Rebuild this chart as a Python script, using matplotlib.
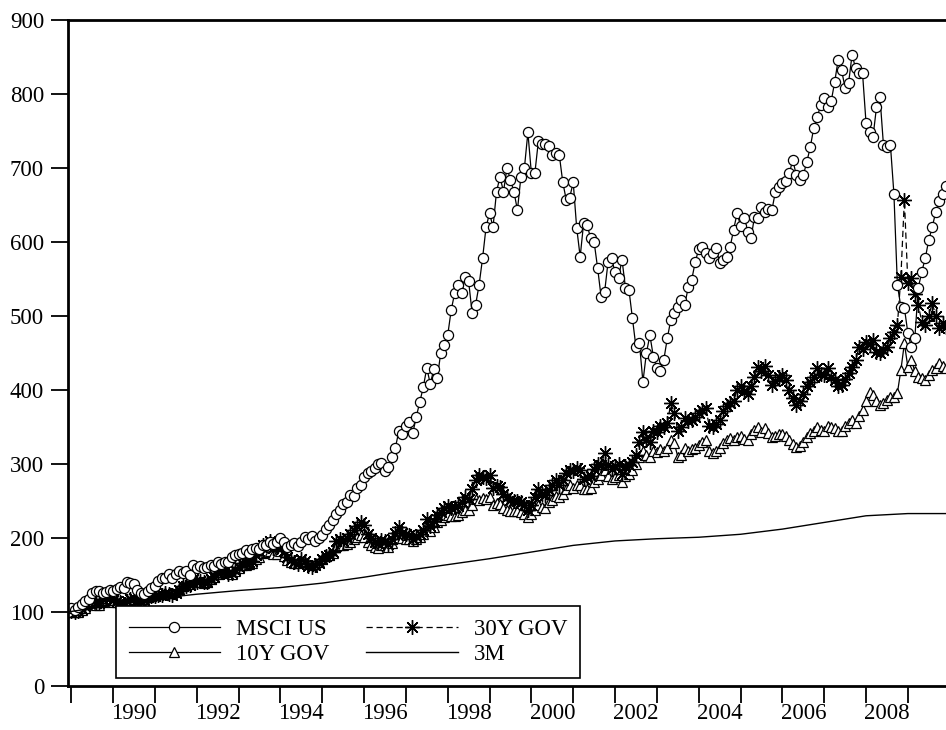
import numpy as np
import matplotlib
matplotlib.use("Agg")
import matplotlib.pyplot as plt

plt.rcParams["font.family"] = ["Liberation Serif", "DejaVu Serif"]

# monthly index levels, Dec 1988 = 100 (one row per year, Jan..Dec)
msci_us = [100,
    106, 103, 107, 111, 115, 118, 126, 128, 128, 125, 127, 130,   # 1989
    128, 131, 134, 133, 140, 139, 138, 130, 125, 124, 128, 132,   # 1990
    135, 142, 146, 146, 152, 146, 152, 156, 153, 156, 150, 163,   # 1991
    160, 162, 160, 161, 163, 162, 168, 165, 167, 168, 174, 177,   # 1992
    178, 180, 184, 180, 185, 186, 185, 191, 190, 194, 192, 195,   # 1993
    200, 195, 188, 190, 193, 189, 195, 202, 198, 203, 196, 200,   # 1994
    204, 212, 218, 224, 232, 238, 246, 248, 258, 257, 268, 272,   # 1995
    282, 288, 290, 294, 300, 302, 290, 296, 310, 322, 345, 340,   # 1996
    352, 357, 342, 364, 384, 404, 430, 408, 428, 416, 450, 461,   # 1997
    474, 508, 531, 542, 531, 553, 547, 504, 515, 542, 578, 620,   # 1998
    639, 620, 668, 688, 668, 700, 684, 668, 643, 688, 700, 748,   # 1999
    693, 693, 736, 733, 733, 730, 718, 720, 718, 681, 657, 660,   # 2000
    681, 619, 580, 626, 623, 605, 600, 565, 526, 532, 573, 578,   # 2001
    559, 552, 576, 538, 535, 497, 458, 463, 411, 450, 474, 445,   # 2002
    430, 425, 441, 470, 495, 504, 512, 522, 515, 539, 549, 573,   # 2003
    590, 593, 585, 578, 585, 592, 572, 575, 580, 593, 616, 639,   # 2004
    622, 632, 614, 605, 634, 632, 647, 640, 645, 643, 668, 674,   # 2005
    680, 682, 693, 711, 690, 684, 690, 708, 728, 754, 769, 785,   # 2006
    795, 782, 790, 816, 846, 832, 808, 815, 853, 835, 828, 828,   # 2007
    761, 749, 742, 782, 796, 731, 729, 731, 665, 542, 512, 511,   # 2008
    477, 458, 470, 538, 560, 578, 603, 620, 641, 655, 665, 675]   # 2009

gov_30y = [100,
    102, 100, 101, 104, 108, 113, 116, 112, 112, 117, 119, 120,
    116, 115, 114, 110, 115, 118, 119, 113, 113, 116, 120, 122,
    122, 123, 123, 125, 124, 123, 126, 130, 135, 135, 137, 145,
    141, 142, 140, 140, 144, 147, 153, 154, 155, 152, 153, 157,
    161, 166, 167, 167, 169, 177, 182, 190, 190, 196, 187, 188,
    192, 183, 174, 170, 168, 165, 171, 169, 162, 161, 163, 166,
    171, 176, 177, 181, 196, 199, 196, 200, 205, 211, 216, 221,
    217, 205, 200, 194, 193, 197, 196, 192, 198, 207, 215, 207,
    205, 204, 198, 203, 206, 211, 225, 216, 223, 231, 235, 240,
    243, 241, 242, 243, 249, 255, 253, 266, 278, 285, 282, 281,
    285, 268, 270, 269, 260, 255, 252, 250, 250, 248, 245, 238,
    245, 255, 266, 260, 258, 265, 272, 278, 272, 278, 288, 292,
    290, 295, 292, 280, 282, 284, 293, 300, 298, 315, 298, 293,
    297, 300, 287, 297, 298, 303, 312, 330, 343, 333, 330, 345,
    343, 352, 350, 355, 382, 369, 345, 350, 362, 358, 360, 364,
    369, 373, 376, 352, 350, 354, 360, 372, 378, 382, 385, 400,
    405, 398, 395, 405, 418, 431, 425, 432, 420, 407, 412, 418,
    420, 413, 400, 389, 380, 385, 395, 405, 411, 418, 430, 421,
    420, 430, 418, 414, 405, 407, 415, 423, 431, 440, 458, 455,
    465, 462, 468, 452, 450, 454, 458, 470, 478, 488, 553, 657,
    545, 551, 530, 515, 492, 488, 500, 518, 500, 484, 490, 485]

gov_10y = [100,
    101, 100, 100, 103, 106, 111, 113, 110, 110, 114, 116, 116,
    113, 113, 112, 109, 113, 115, 117, 115, 115, 117, 120, 122,
    123, 124, 124, 125, 126, 125, 127, 131, 135, 136, 138, 143,
    140, 140, 139, 140, 144, 147, 152, 154, 156, 153, 152, 156,
    159, 164, 164, 165, 166, 172, 174, 180, 181, 183, 178, 179,
    182, 176, 170, 167, 166, 166, 169, 168, 165, 164, 165, 167,
    171, 175, 177, 180, 189, 191, 190, 192, 195, 198, 202, 204,
    201, 194, 191, 188, 187, 190, 190, 188, 193, 200, 205, 200,
    199, 199, 196, 199, 201, 205, 215, 210, 215, 221, 224, 228,
    231, 230, 230, 231, 235, 238, 238, 245, 253, 252, 254, 253,
    255, 245, 247, 246, 240, 238, 237, 236, 236, 235, 233, 229,
    233, 238, 244, 242, 241, 248, 252, 257, 255, 259, 266, 272,
    268, 272, 272, 266, 266, 268, 276, 280, 285, 292, 284, 280,
    282, 285, 276, 284, 286, 292, 300, 310, 318, 312, 310, 318,
    316, 320, 318, 322, 332, 328, 310, 312, 322, 318, 320, 322,
    326, 330, 333, 318, 315, 317, 322, 328, 332, 335, 332, 337,
    338, 334, 333, 340, 346, 350, 343, 349, 342, 337, 338, 340,
    340, 338, 333, 327, 323, 324, 330, 337, 342, 345, 350, 346,
    344, 352, 350, 348, 344, 345, 352, 356, 360, 355, 365, 373,
    385, 397, 393, 385, 380, 383, 386, 390, 391, 396, 427, 463,
    431, 441, 425, 418, 416, 414, 420, 427, 430, 436, 432, 430]

# 3M bill index, read at the start of each year
bill_years = [1988 + 11 / 12] + list(range(1990, 2011))
bill_3m = [100, 109, 118, 124, 129, 133, 139, 147, 156, 164, 172,
           181, 190, 196, 199, 201, 205, 212, 221, 230, 233, 233]

tick_years = list(range(1989, 2011))
label_years = list(range(1990, 2010, 2))

start = 1988 + 11 / 12
months = start + np.arange(len(msci_us)) / 12

fig = plt.figure(figsize=(9.46, 7.30), dpi=100)
ax = fig.add_axes([0.0716, 0.0603, 0.9323, 0.9123])

h10, = ax.plot(months, gov_10y, color="black", lw=0.9, marker="^", ms=7,
               mfc="white", mec="black", mew=0.9, label="10Y GOV")
h30, = ax.plot(months, gov_30y, color="black", lw=0.9, ls=(0, (5, 3)),
               marker=(8, 2, 0), ms=10.5, mec="black", mew=1.0, label="30Y GOV")
hms, = ax.plot(months, msci_us, color="black", lw=0.9, marker="o", ms=7.3,
               mfc="white", mec="black", mew=0.9, label="MSCI US")
h3m, = ax.plot(bill_years, bill_3m, color="black", lw=1.0, label="3M")

ax.set_xlim(start, 2010.0)
ax.set_ylim(0, 900)
ax.set_yticks(range(0, 1000, 100))
ax.set_xticks(tick_years)
ax.set_xticklabels([])
ax.set_xticks([y + 0.5 for y in label_years], minor=True)
ax.set_xticklabels([str(y) for y in label_years], minor=True)

ax.tick_params(axis="x", which="major", direction="out", length=12, width=1.3)
ax.tick_params(axis="x", which="minor", length=0, pad=12, labelsize=16.5)
ax.tick_params(axis="y", direction="out", length=12, width=1.3, pad=5, labelsize=16.5)

for s in ax.spines.values():
    s.set_linewidth(2.0)

leg = ax.legend([hms, h10, h30, h3m], ["MSCI US", "10Y GOV", "30Y GOV", "3M"],
                ncol=2, loc="lower left",
                bbox_to_anchor=(116 / 946, 1 - 678 / 730),
                bbox_transform=fig.transFigure, borderaxespad=0,
                fontsize=16.5, numpoints=1, handlelength=4.0, handletextpad=0.7,
                columnspacing=1.6, labelspacing=0.2, borderpad=0.55,
                fancybox=False, framealpha=1, edgecolor="black")
leg.get_frame().set_linewidth(1.2)

fig.savefig("out.png", dpi=100)
